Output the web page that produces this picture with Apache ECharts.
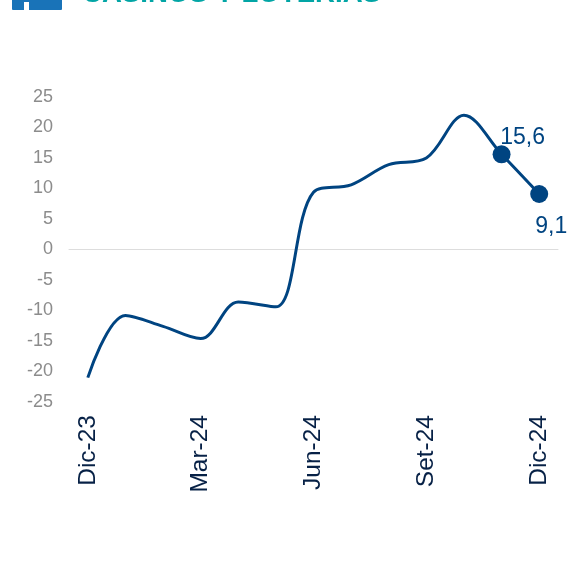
<!DOCTYPE html>
<html>
<head>
<meta charset="utf-8">
<title>Casinos y loterías</title>
<style>
	html, body { margin: 0; padding: 0; background: #fff; overflow: hidden; }
	#chart { width: 568px; height: 566px; }
</style>
<script src="https://cdn.jsdelivr.net/npm/echarts@6/dist/echarts.min.js"></script>
</head>
<body>
<div id="chart"></div>
<script>
	const months = ['Dic-23','Ene-24','Feb-24','Mar-24','Abr-24','May-24','Jun-24','Jul-24','Ago-24','Set-24','Oct-24','Nov-24','Dic-24'];
	const values = [-21, -10.8, -12.6, -14.6, -8.6, -9.4, 9.4, 10.6, 13.9, 15, 22, 15.6, 9.1];
	const labelled = {11: ['15,6', [21, -17]], 12: ['9,1', [12, 33]]};

	const chart = echarts.init(document.getElementById('chart'), null, {renderer: 'canvas'});
	const font = '"Liberation Sans", Arial, sans-serif';

	const points = values.map((v, i) => {
		const mark = labelled[i];
		if (!mark) return {value: v, symbol: 'none'};
		return {
			value: v,
			symbol: 'circle',
			symbolSize: 18,
			label: {
				show: true,
				formatter: mark[0],
				position: 'inside',
				offset: mark[1],
				color: '#004481',
				fontFamily: font,
				fontSize: 23
			}
		};
	});

	chart.setOption({
		animation: false,
		grid: {left: 69, right: 10, top: 97, bottom: 164},
		graphic: [
			// cropped header at the top of the picture
			{type: 'rect', shape: {x: 12, y: -6, width: 50, height: 16, r: 1}, style: {fill: '#1973b8'}},
			{type: 'rect', shape: {x: 24, y: 2, width: 5, height: 8}, style: {fill: '#fff'}},
			{type: 'text', left: 82, top: -20, style: {text: 'CASINOS Y LOTERÍAS', fill: '#02a5a5', font: 'bold 27.6px ' + font}}
		],
		xAxis: {
			type: 'category',
			data: months,
			boundaryGap: true,
			axisLine: {onZero: true, lineStyle: {color: '#dddddd', width: 1}},
			axisTick: {show: false},
			axisLabel: {
				interval: (i) => i % 3 === 0,
				rotate: 90,
				color: '#072146',
				fontFamily: font,
				fontSize: 24.5,
				margin: 13,
				padding: [3, 0, 0, 0]
			}
		},
		yAxis: {
			type: 'value',
			min: -25,
			max: 25,
			interval: 5,
			axisLine: {show: false},
			axisTick: {show: false},
			splitLine: {show: false},
			axisLabel: {color: '#8c8c8c', fontFamily: font, fontSize: 18, margin: 16}
		},
		series: [{
			type: 'line',
			data: points,
			smooth: 0.35,
			showSymbol: true,
			showAllSymbols: true,
			lineStyle: {color: '#004481', width: 3},
			itemStyle: {color: '#004481'}
		}]
	});
</script>
</body>
</html>
